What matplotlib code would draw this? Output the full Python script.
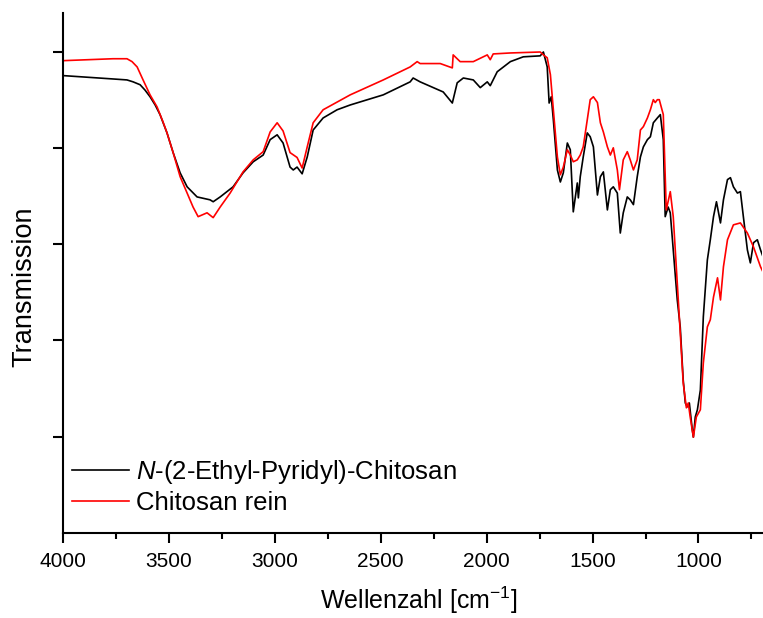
import matplotlib
matplotlib.use("Agg")
import matplotlib.pyplot as plt
from matplotlib.ticker import MultipleLocator, NullFormatter

plt.rcParams['font.family'] = ['Liberation Sans', 'DejaVu Sans']
plt.rcParams['mathtext.fontset'] = 'custom'
plt.rcParams['mathtext.rm'] = 'Liberation Sans'
plt.rcParams['mathtext.it'] = 'Liberation Sans:italic'

# N-(2-Ethyl-Pyridyl)-Chitosan (black)
wn_black = [4000, 3764, 3698, 3669, 3636, 3613, 3589, 3565, 3542, 3509, 3480, 3447, 3414, 3367,
            3306, 3291, 3258,
            3197, 3150, 3102, 3055, 3022, 2989, 2961, 2928, 2913, 2895, 2871, 2847, 2819, 2772,
            2706, 2644, 2488, 2361, 2347, 2314, 2205, 2162, 2139, 2110, 2063, 2030, 1997, 1983,
            1950, 1888, 1827, 1747, 1732, 1714, 1705, 1695, 1685, 1666, 1652, 1638, 1619, 1605,
            1591, 1572, 1567, 1558, 1544, 1525, 1511, 1496, 1477, 1463, 1449, 1430, 1416, 1402,
            1383, 1369, 1355, 1336, 1322, 1307, 1289, 1274, 1260, 1241, 1227, 1213, 1194, 1180,
            1166, 1157, 1143, 1133, 1119, 1100, 1086, 1072, 1062, 1053, 1043, 1029, 1024, 1015,
            1005, 991, 977, 958, 944, 929, 915, 896, 882, 863, 849, 835, 816, 802, 788, 769, 755,
            740, 722, 707, 693]
t_black = [95.0, 94.3, 94.1, 93.7, 93.1, 92.0, 90.6, 88.9, 86.9, 83.1, 79.0, 74.8, 71.9, 69.8,
           69.2, 68.8, 69.8,
           71.9, 74.8, 77.1, 78.5, 81.7, 82.7, 81.0, 76.0, 75.4, 76.0, 74.6, 78.1, 83.7, 86.2,
           87.9, 88.9, 91.0, 93.7, 94.5, 93.7, 91.6, 89.3, 93.5, 94.5, 94.1, 92.5, 93.7, 92.9,
           95.8, 97.9, 98.9, 99.1, 99.9, 96.8, 89.3, 90.6, 85.8, 75.4, 72.9, 74.8, 81.0, 79.6,
           66.7, 72.7, 69.6, 74.0, 78.1, 83.1, 82.3, 80.2, 70.2, 74.0, 75.0, 67.1, 71.3, 71.9,
           70.6, 62.3, 66.5, 69.8, 69.2, 68.2, 74.0, 78.1, 80.2, 81.7, 82.3, 85.2, 86.2, 86.9,
           81.7, 65.7, 67.7, 66.5, 58.8, 48.4, 42.8, 31.8, 27.0, 26.2, 27.0, 21.4, 19.9, 24.1,
           25.6, 29.7, 44.9, 56.7, 60.9, 65.7, 68.8, 64.4, 69.2, 73.4, 73.8, 71.9, 70.6, 70.9,
           65.7, 58.8, 56.1, 60.3, 60.9, 58.8, 57.1]

# Chitosan rein (red)
wn_red = [4000, 3764, 3698, 3674, 3650, 3622, 3589, 3556, 3528, 3509, 3480, 3447, 3414, 3386,
          3362, 3320, 3291,
          3258, 3211, 3150, 3102, 3055, 3022, 2989, 2961, 2928, 2895, 2871, 2847, 2819, 2772,
          2644, 2488, 2361, 2328, 2314, 2219, 2162, 2158, 2125, 2077, 2063, 1997, 1983, 1969,
          1888, 1747, 1732, 1714, 1699, 1685, 1666, 1652, 1638, 1619, 1605, 1591, 1572, 1558,
          1544, 1525, 1511, 1496, 1477, 1463, 1449, 1430, 1416, 1402, 1383, 1373, 1355, 1336,
          1322, 1307, 1289, 1274, 1260, 1241, 1227, 1213, 1204, 1194, 1185, 1166, 1152, 1133,
          1119, 1100, 1086, 1072, 1057, 1048, 1039, 1024, 1010, 991, 977, 958, 944, 929, 910,
          896, 882, 863, 835, 802, 769, 740, 707, 693]
t_red = [98.1, 98.5, 98.5, 97.9, 96.8, 94.1, 91.0, 88.5, 85.4, 83.1, 79.0, 74.0, 70.6, 67.7,
         65.7, 66.5, 65.5,
         67.7, 70.6, 75.0, 77.5, 79.2, 83.3, 85.2, 83.5, 79.0, 78.0, 75.8, 80.2, 85.2, 87.9,
         91.0, 94.1, 96.8, 97.9, 97.5, 97.5, 96.6, 99.3, 97.9, 97.9, 97.9, 99.3, 98.3, 99.5,
         99.7, 99.9, 99.3, 98.7, 95.2, 87.9, 78.1, 74.4, 76.0, 79.6, 78.5, 77.1, 77.5, 78.5,
         80.2, 85.8, 90.0, 90.6, 89.4, 85.2, 83.3, 80.2, 78.5, 80.0, 75.4, 71.3, 77.5, 79.2,
         77.5, 75.4, 77.5, 83.7, 84.4, 86.2, 87.9, 90.0, 89.4, 90.0, 90.0, 86.9, 67.1, 70.9,
         65.7, 51.9, 41.6, 31.2, 26.0, 27.0, 24.1, 19.9, 24.1, 25.6, 35.3, 42.8, 44.3, 49.0, 53.0,
         48.4, 55.3, 60.9, 64.0, 64.4, 62.3, 59.4, 55.3, 54.0]

labels = [r'$\mathit{N}$-(2-Ethyl-Pyridyl)-Chitosan', 'Chitosan rein']
colors = ['black', '#ff0000']

fig = plt.figure(figsize=(7.63, 6.18), dpi=100)
ax = fig.add_axes([63/763, 85/618, 699/763, 520/618])

ax.plot(wn_black, t_black, color=colors[0], lw=1.2, label=labels[0])
ax.plot(wn_red, t_red, color=colors[1], lw=1.2, label=labels[1])

ax.set_xlim(4000, 700)
ax.set_ylim(0, 108)
ax.xaxis.set_major_locator(MultipleLocator(500))
ax.xaxis.set_minor_locator(MultipleLocator(250))
ax.set_yticks([20, 40, 60, 80, 100])
ax.yaxis.set_major_formatter(NullFormatter())

for s in ['top', 'right']:
    ax.spines[s].set_visible(False)
for s in ['left', 'bottom']:
    ax.spines[s].set_linewidth(1.5)
ax.tick_params(axis='both', which='major', direction='out', length=7.5, width=1.5, labelsize=15)
ax.tick_params(axis='x', which='major', pad=6)
ax.tick_params(axis='x', which='minor', direction='out', length=4, width=1.5)

ax.set_xlabel(r'Wellenzahl [cm$^{\mathregular{-1}}$]', fontsize=18)
ax.xaxis.set_label_coords(0.509, -0.1)
ax.set_ylabel('Transmission', fontsize=19.5)
ax.yaxis.set_label_coords(-0.036, 0.473)

leg = ax.legend(loc='upper left', bbox_to_anchor=(9/699, 75/520), frameon=False,
                fontsize=18.5, handlelength=2.2, handletextpad=0.3, labelspacing=0.2,
                borderpad=0, borderaxespad=0)

fig.savefig('out.png', dpi=100)
